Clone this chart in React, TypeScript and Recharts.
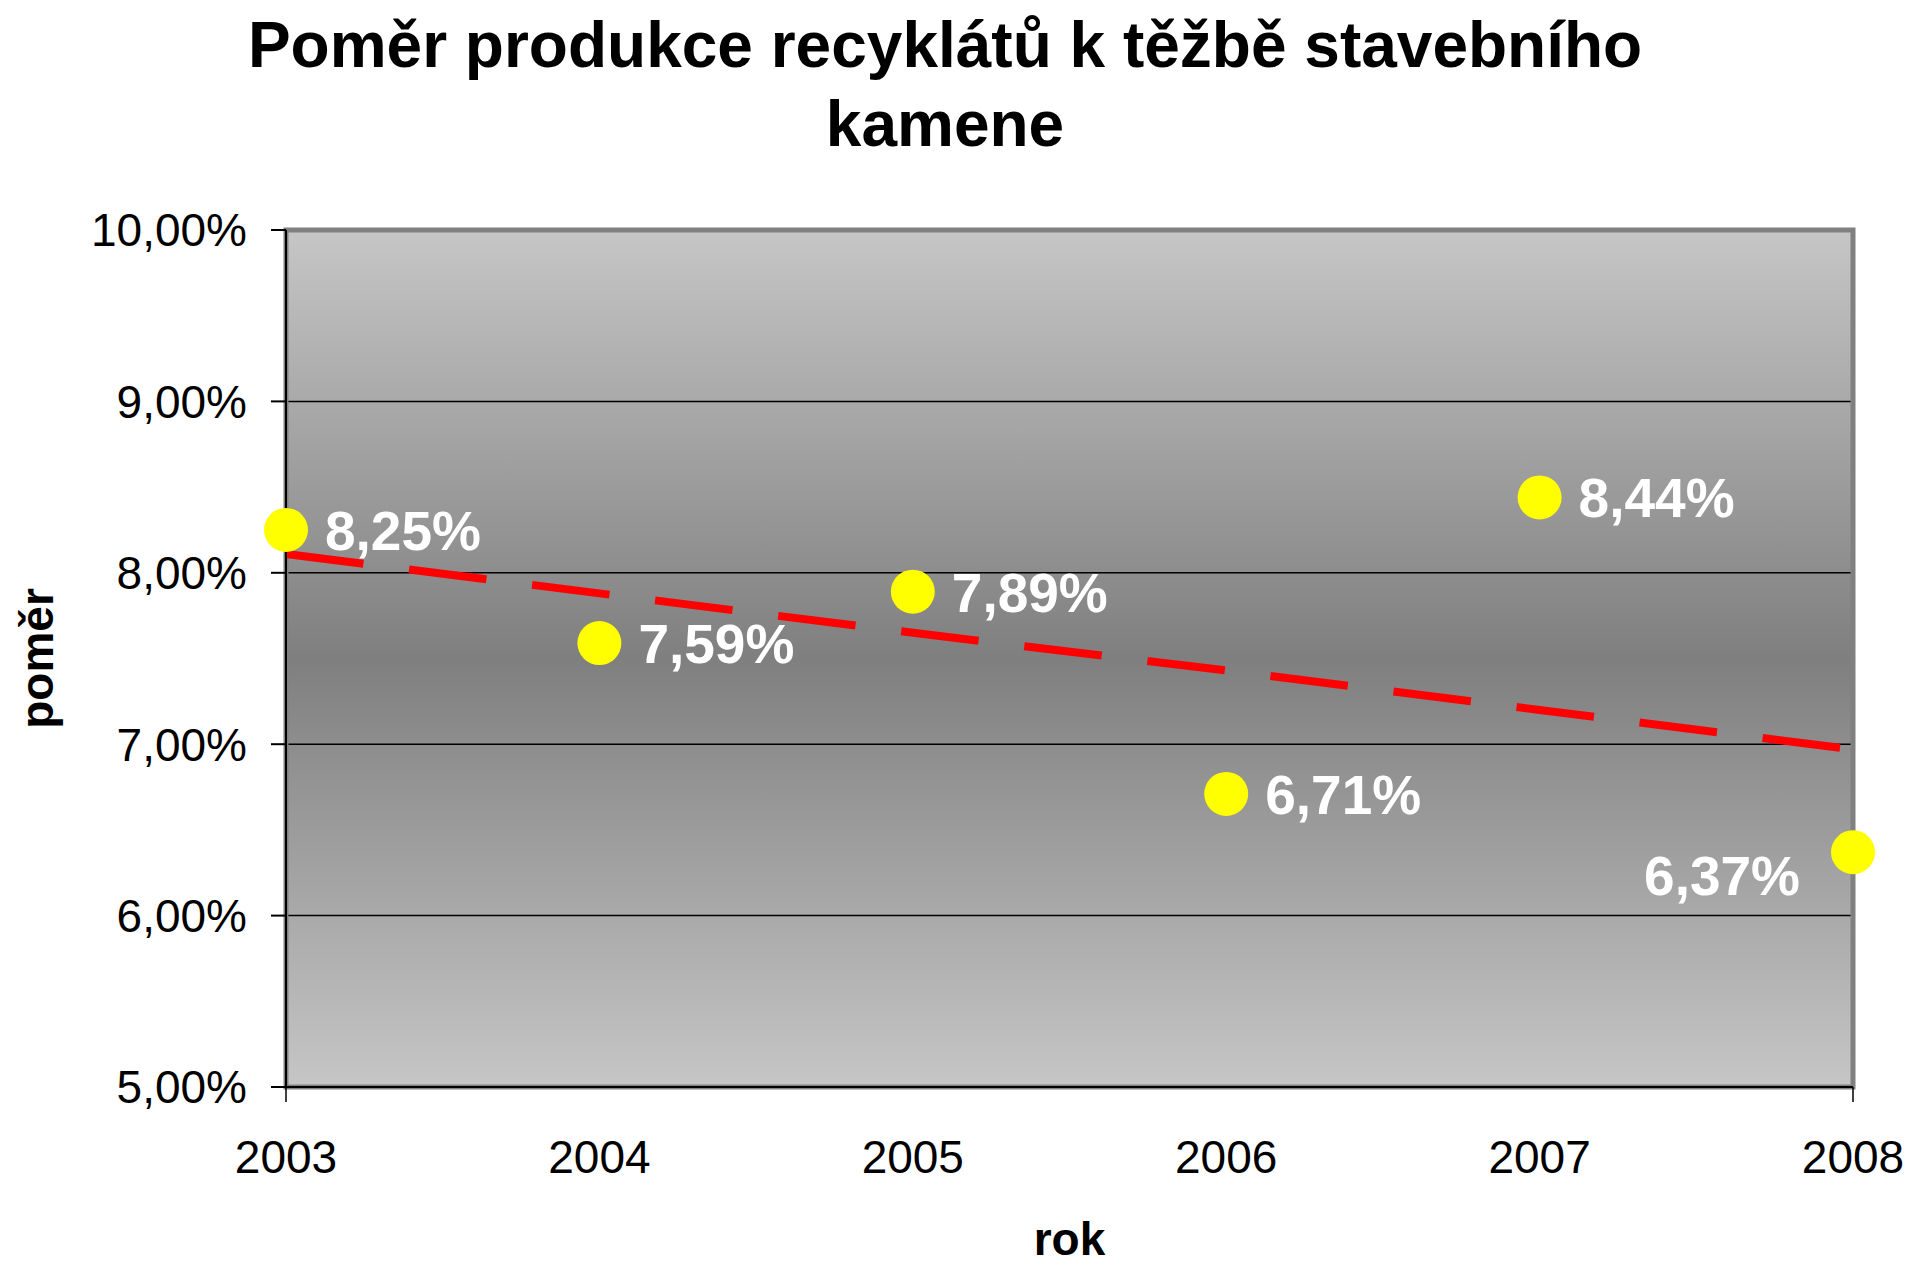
import React from 'react';
import { LineChart, Line, XAxis, YAxis, CartesianGrid, ReferenceArea, LabelList } from 'recharts';

const years = ['2003', '2004', '2005', '2006', '2007', '2008'];
const ratio = [8.25, 7.59, 7.89, 6.71, 8.44, 6.37];
// linear trend
const trend = [8.11, 7.88, 7.65, 7.43, 7.2, 6.97];
const yTicks = [5, 6, 7, 8, 9, 10];

const data = years.map((year, i) => ({ year, ratio: ratio[i], trend: trend[i] }));

const FONT = '"Liberation Sans", Arial, sans-serif';
const fmt = (v: number) => v.toFixed(2).replace('.', ',') + '%';

const PointLabel = (props: any) => {
  const { x, y, value, index } = props;
  const last = index === years.length - 1;
  return (
    <text
      x={last ? x - 53 : x + 39}
      y={last ? y + 43 : y + 20}
      textAnchor={last ? 'end' : 'start'}
      fill="#fff"
      fontSize={55}
      fontWeight="bold"
      fontFamily={FONT}
    >
      {fmt(value)}
    </text>
  );
};

// x ticks: tick marks only at the ends, like the original
const YearTick = (props: any) => {
  const { x, y, payload, index } = props;
  const edge = index === 0 || index === years.length - 1;
  return (
    <g>
      {edge && <line x1={x} x2={x} y1={y - 38 - 15} y2={y - 38} stroke="#000" strokeWidth={1.5} />}
      <text x={x} y={y} dy="0.71em" textAnchor="middle" fill="#000" fontSize={46} fontFamily={FONT}>
        {payload.value}
      </text>
    </g>
  );
};

const App: React.FC = () => {
  return (
    <div style={{ position: 'relative', width: 1927, height: 1269, fontFamily: FONT, background: '#fff' }}>
      <style>{'body{margin:0}'}</style>
      <div
        style={{
          position: 'absolute',
          top: 6,
          left: 0,
          width: 1890,
          textAlign: 'center',
          fontSize: 64,
          lineHeight: '79px',
          fontWeight: 'bold',
          zIndex: 1,
        }}
      >
        Poměr produkce recyklátů k těžbě stavebního
        <br />
        kamene
      </div>
      <LineChart width={1927} height={1269} data={data} margin={{ top: 230, right: 74, bottom: 0, left: 0 }}>
        <defs>
          <linearGradient id="plotBg" x1="0" y1="0" x2="0" y2="1">
            <stop offset="0%" stopColor="#c6c6c6" />
            <stop offset="50%" stopColor="#7f7f7f" />
            <stop offset="100%" stopColor="#c6c6c6" />
          </linearGradient>
        </defs>
        <CartesianGrid vertical={false} fill="url(#plotBg)" fillOpacity={1} stroke="#000" strokeWidth={1.5} />
        <ReferenceArea x1="2003" x2="2008" y1={5} y2={10} fill="none" stroke="#808080" strokeWidth={5} />
        <XAxis
          dataKey="year"
          height={182}
          stroke="#000"
          strokeWidth={2}
          tickSize={15}
          tickMargin={38}
          tickLine={false}
          tick={YearTick}
          label={(p: any) => (
            <text
              x={p.viewBox.x + p.viewBox.width / 2}
              y={p.viewBox.y + 168}
              textAnchor="middle"
              fontSize={46}
              fontWeight="bold"
              fontFamily={FONT}
              fill="#000"
            >
              rok
            </text>
          )}
        />
        <YAxis
          width={286}
          domain={[5, 10]}
          ticks={yTicks}
          tickFormatter={fmt}
          stroke="#000"
          strokeWidth={2}
          tickSize={15}
          tickMargin={24}
          tick={{ fill: '#000', fontSize: 46, fontFamily: FONT }}
          label={(p: any) => (
            <text
              x={53}
              y={p.viewBox.y + p.viewBox.height / 2}
              transform={`rotate(-90, 53, ${p.viewBox.y + p.viewBox.height / 2})`}
              textAnchor="middle"
              fontSize={46}
              fontWeight="bold"
              fontFamily={FONT}
              fill="#000"
            >
              poměr
            </text>
          )}
        />
        <Line
          dataKey="trend"
          type="linear"
          stroke="#ff0000"
          strokeWidth={8}
          strokeDasharray="78 46"
          dot={false}
          activeDot={false}
          isAnimationActive={false}
        />
        <Line
          dataKey="ratio"
          stroke="none"
          dot={{ r: 22, fill: '#ffff00', stroke: 'none' }}
          activeDot={false}
          isAnimationActive={false}
        >
          <LabelList dataKey="ratio" content={PointLabel} />
        </Line>
      </LineChart>
    </div>
  );
};

export default App;
